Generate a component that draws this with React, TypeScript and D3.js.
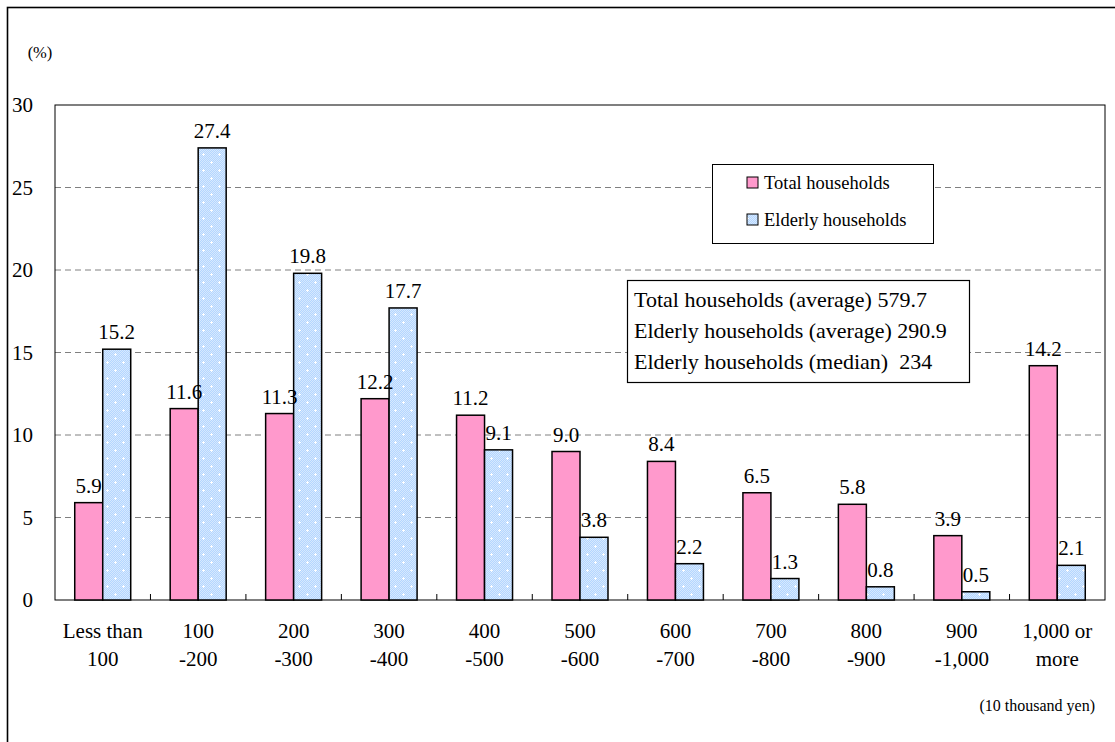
import React from "react";
import * as d3 from "d3";

const categories: string[][] = [
  ["Less than", "100"],
  ["100", "-200"],
  ["200", "-300"],
  ["300", "-400"],
  ["400", "-500"],
  ["500", "-600"],
  ["600", "-700"],
  ["700", "-800"],
  ["800", "-900"],
  ["900", "-1,000"],
  ["1,000 or", "more"],
];
const totalHouseholds = [5.9, 11.6, 11.3, 12.2, 11.2, 9.0, 8.4, 6.5, 5.8, 3.9, 14.2];
const elderlyHouseholds = [15.2, 27.4, 19.8, 17.7, 9.1, 3.8, 2.2, 1.3, 0.8, 0.5, 2.1];
const yTicks = [0, 5, 10, 15, 20, 25, 30];
const seriesNames = ["Total households", "Elderly households"];
const summaryLines = [
  "Total households (average) 579.7",
  "Elderly households (average) 290.9",
  "Elderly households (median)\u00a0 234",
];

const W = 1115;
const H = 742;
const plot = { left: 55, right: 1105, top: 105, bottom: 600 };
const PINK = "#ff99cc";
const SERIF = "Liberation Serif";

export default function App() {
  const x = d3
    .scaleBand<number>()
    .domain(d3.range(categories.length))
    .range([plot.left, plot.right])
    .paddingInner(0)
    .paddingOuter(0);
  const y = d3.scaleLinear().domain([0, 30]).range([plot.bottom, plot.top]);
  const inner = d3
    .scaleBand<number>()
    .domain([0, 1])
    .range([0, x.bandwidth()])
    .paddingOuter(0.705)
    .paddingInner(0);
  const bw = inner.bandwidth();

  const series = [totalHouseholds, elderlyHouseholds];
  const fills = [PINK, "url(#elderlyPattern)"];

  return (
    <svg width={W} height={H} style={{ position: "absolute", left: 0, top: 0, background: "#fff" }}>
      <defs>
        <pattern id="dither" width="2" height="2" patternUnits="userSpaceOnUse">
          <rect width="2" height="2" fill="#b4d6ff" />
          <rect width="1" height="1" fill="#d6e9ff" />
          <rect x="1" y="1" width="1" height="1" fill="#d6e9ff" />
        </pattern>
        <pattern id="elderlyPattern" width="16" height="16" patternUnits="userSpaceOnUse">
          <rect width="16" height="16" fill="url(#dither)" />
          <g fill="#ffffff">
            <rect x="3" y="1" width="1" height="3" />
            <rect x="2" y="2" width="3" height="1" />
            <rect x="11" y="9" width="1" height="3" />
            <rect x="10" y="10" width="3" height="1" />
          </g>
        </pattern>
      </defs>

      {/* outer frame */}
      <rect x={7.5} y={7.5} width={W + 20} height={H + 20} fill="none" stroke="#000" strokeWidth={1.6} />

      {/* gridlines */}
      {yTicks
        .filter((t) => t > 0 && t < 30)
        .map((t) => (
          <line
            key={t}
            x1={plot.left}
            x2={plot.right}
            y1={y(t)}
            y2={y(t)}
            stroke="#808080"
            strokeWidth={1}
            strokeDasharray="6,4"
          />
        ))}

      {/* plot border */}
      <rect
        x={plot.left}
        y={plot.top}
        width={plot.right - plot.left}
        height={plot.bottom - plot.top}
        fill="none"
        stroke="#000"
        strokeWidth={1}
      />

      {/* y tick labels */}
      {yTicks.map((t) => (
        <text key={t} x={33} y={y(t) + 7} textAnchor="end" fontSize={21} fontFamily={SERIF}>
          {t}
        </text>
      ))}
      <text x={40} y={58} textAnchor="middle" fontSize={16.5} fontFamily={SERIF}>
        (%)
      </text>

      {/* category boundary ticks */}
      {d3.range(1, categories.length).map((i) => (
        <line
          key={i}
          x1={x(i)!}
          x2={x(i)!}
          y1={plot.bottom}
          y2={plot.bottom - 6}
          stroke="#000"
          strokeWidth={1}
        />
      ))}

      {/* bars */}
      {series.map((vals, s) =>
        vals.map((v, i) => {
          const bx = x(i)! + inner(s)!;
          return (
            <rect
              key={`${s}-${i}`}
              x={bx}
              y={y(v)}
              width={bw}
              height={y(0) - y(v)}
              fill={fills[s]}
              stroke="#000"
              strokeWidth={1.5}
            />
          );
        })
      )}

      {/* value labels */}
      {series.map((vals, s) =>
        vals.map((v, i) => (
          <text
            key={`l${s}-${i}`}
            x={x(i)! + inner(s)! + bw / 2}
            y={y(v) - 10}
            textAnchor="middle"
            fontSize={21}
            fontFamily={SERIF}
          >
            {v.toFixed(1)}
          </text>
        ))
      )}

      {/* category labels */}
      {categories.map((lines, i) =>
        lines.map((ln, k) => (
          <text
            key={`${i}-${k}`}
            x={x(i)! + x.bandwidth() / 2}
            y={638 + k * 27.5}
            textAnchor="middle"
            fontSize={21}
            fontFamily={SERIF}
          >
            {ln}
          </text>
        ))
      )}

      <text x={1095} y={711} textAnchor="end" fontSize={16} fontFamily={SERIF}>
        (10 thousand yen)
      </text>

      {/* legend */}
      <rect x={712.5} y={164.5} width={221} height={79} fill="#fff" stroke="#000" strokeWidth={1} />
      {seriesNames.map((name, s) => (
        <g key={name}>
          <rect x={747} y={177 + s * 37} width={11} height={11} fill={fills[s]} stroke="#000" strokeWidth={1} />
          <text x={764} y={189 + s * 37} fontSize={18.5} fontFamily={SERIF}>
            {name}
          </text>
        </g>
      ))}

      {/* summary box */}
      <rect x={627.5} y={280.5} width={342} height={102} fill="#fff" stroke="#000" strokeWidth={1.2} />
      {summaryLines.map((ln, k) => (
        <text key={k} x={634} y={306.5 + k * 31} fontSize={22} fontFamily={SERIF}>
          {ln}
        </text>
      ))}
    </svg>
  );
}
